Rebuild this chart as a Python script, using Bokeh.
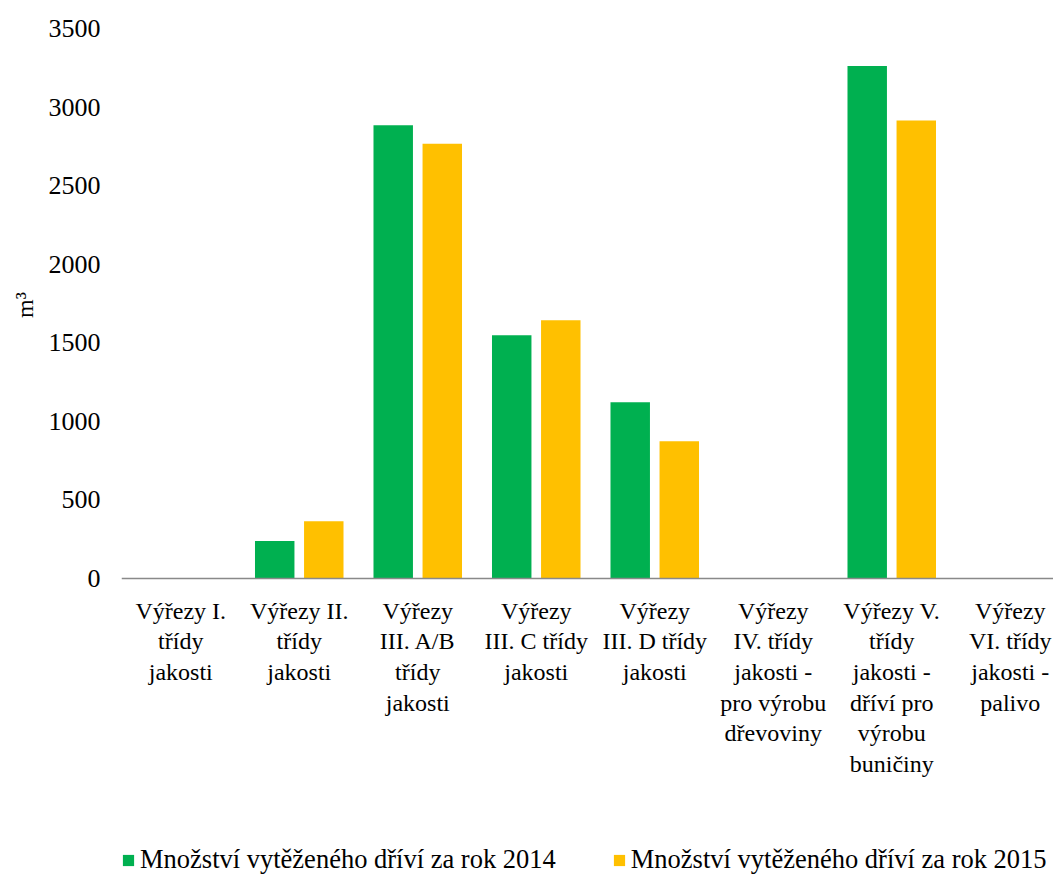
from bokeh.plotting import figure
from bokeh.models import ColumnDataSource, FixedTicker, Range1d, Legend, LegendItem, Span
from bokeh.embed import file_html
from bokeh.resources import INLINE
from bokeh.core.properties import value
import numpy as np

# Assortment categories (x labels, line-broken as displayed)
categories = [
    "Výřezy I.\ntřídy\njakosti",
    "Výřezy II.\ntřídy\njakosti",
    "Výřezy\nIII. A/B\ntřídy\njakosti",
    "Výřezy\nIII. C třídy\njakosti",
    "Výřezy\nIII. D třídy\njakosti",
    "Výřezy\nIV. třídy\njakosti -\npro výrobu\ndřevoviny",
    "Výřezy V.\ntřídy\njakosti -\ndříví pro\nvýrobu\nbuničiny",
    "Výřezy\nVI. třídy\njakosti -\npalivo",
]

# Harvested volume in m3
volume_2014 = [0, 238, 2885, 1548, 1121, 0, 3262, 0]
volume_2015 = [0, 365, 2766, 1643, 874, 0, 2915, 0]

series_names = [
    "Množství vytěženého dříví za rok 2014",
    "Množství vytěženého dříví za rok 2015",
]

y_ticks = [0, 500, 1000, 1500, 2000, 2500, 3000, 3500]

GREEN = "#00B050"
ORANGE = "#FFC000"
FONT = "Liberation Serif"

idx = np.arange(len(categories))
bar_w = 0.333
offset = 0.207

# the plot frame runs down to the bottom edge so that the category labels
# and the legend can live inside it; the value axis covers 0..3500 in the
# upper 550 px and the remaining 297 px sit below zero
y_max = y_ticks[-1]
plot_px, below_px = 550, 297
y_min = -y_max * below_px / plot_px

src = ColumnDataSource(data=dict(
    x14=idx - offset,
    x15=idx + offset,
    v14=volume_2014,
    v15=volume_2015,
))
lab = ColumnDataSource(data=dict(x=idx, y=[0] * len(categories), text=categories))

p = figure(
    frame_width=932, frame_height=plot_px + below_px,
    min_border_left=121, min_border_right=0,
    min_border_top=28, min_border_bottom=0,
    x_range=Range1d(-0.5, 7.365),
    y_range=Range1d(y_min, y_max),
    x_axis_location=None,
    output_backend="svg", toolbar_location=None,
    background_fill_color="white", border_fill_color="white",
)
p.outline_line_color = None
p.xgrid.visible = False
p.ygrid.visible = False

r14 = p.vbar(x="x14", top="v14", width=bar_w, source=src,
             fill_color=GREEN, line_color=None)
r15 = p.vbar(x="x15", top="v15", width=bar_w, source=src,
             fill_color=ORANGE, line_color=None)

# grey baseline at zero
p.add_layout(Span(location=0, dimension="width",
                  line_color="#898989", line_width=1.3))

# category labels under the baseline
p.text(x="x", y="y", text="text", source=lab,
       text_align="center", text_baseline="top", y_offset=19,
       text_font=value(FONT), text_font_size="24px",
       text_color="#000000", text_line_height=1.18)

# y axis: values only, no line or ticks
ya = p.yaxis[0]
ya.ticker = FixedTicker(ticks=y_ticks)
ya.axis_line_color = None
ya.major_tick_line_color = None
ya.minor_tick_line_color = None
ya.major_tick_out = 0
ya.major_tick_in = 0
ya.major_label_standoff = 21
ya.major_label_text_font = FONT
ya.major_label_text_font_size = "26px"
ya.major_label_text_color = "#000000"
# the axis title is centred on the whole frame; leading no-break spaces
# lift the unit up to the middle of the 0..3500 value band
ya.axis_label = "\u00a0" * 49 + "m³"
ya.axis_label_text_font = FONT
ya.axis_label_text_font_style = "normal"
ya.axis_label_text_font_size = "24px"
ya.axis_label_text_color = "#000000"
ya.axis_label_standoff = 8

# legend along the bottom edge
legend = Legend(
    items=[LegendItem(label=series_names[0], renderers=[r14]),
           LegendItem(label=series_names[1], renderers=[r15])],
    orientation="horizontal",
    location=(0, 0),
    border_line_color=None,
    background_fill_alpha=0,
    label_text_font=FONT,
    label_text_font_size="26.5px",
    label_text_color="#000000",
    glyph_width=14, glyph_height=14,
    label_standoff=5,
    spacing=56,
    padding=0,
    margin=0,
)
p.add_layout(legend, "center")

open("out.html", "w").write(file_html(p, INLINE))
